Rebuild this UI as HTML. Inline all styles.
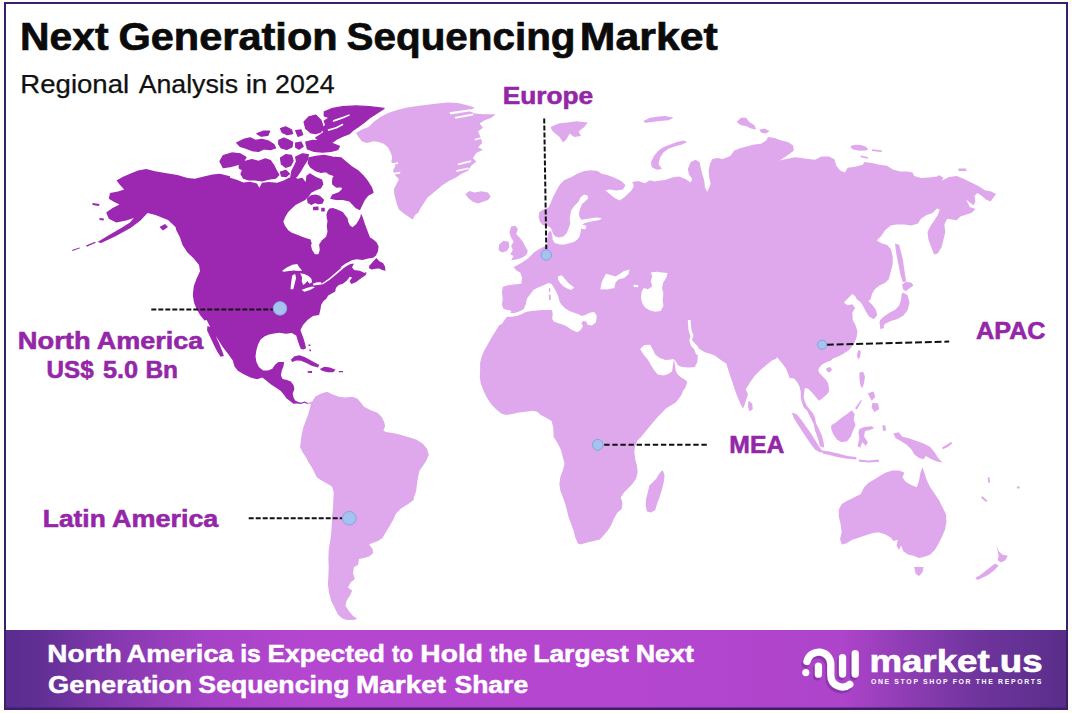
<!DOCTYPE html>
<html lang="en">
<head>
<meta charset="utf-8">
<title>Next Generation Sequencing Market - Regional Analysis in 2024</title>
<style>
  html, body { margin: 0; padding: 0; background: #fffefd; }
  body { width: 1072px; height: 713px; overflow: hidden; position: relative;
         font-family: "Liberation Sans", sans-serif; }
  svg { position: absolute; left: 0; top: 0; display: block; }
  text { font-family: "Liberation Sans", sans-serif; }
  .lbl { font-weight: bold; fill: #9426A8; }
  .dash { stroke: #111; stroke-width: 2; fill: none; }
  .dot { fill: #a5c3ee; stroke: #7fa6dd; stroke-width: 1; }
</style>
</head>
<body>
<svg width="1072" height="713" viewBox="0 0 1072 713">
  <defs>
    <linearGradient id="band" gradientUnits="userSpaceOnUse" x1="6" y1="0" x2="1066" y2="0">
      <stop offset="0" stop-color="#5b2d8f"/>
      <stop offset="0.03" stop-color="#602f94"/>
      <stop offset="0.09" stop-color="#8037ab"/>
      <stop offset="0.19" stop-color="#a642c6"/>
      <stop offset="0.28" stop-color="#b446cf"/>
      <stop offset="0.60" stop-color="#b446cf"/>
      <stop offset="0.79" stop-color="#ad44ca"/>
      <stop offset="0.855" stop-color="#8c3cb2"/>
      <stop offset="0.92" stop-color="#6e349c"/>
      <stop offset="0.985" stop-color="#5e2f8e"/>
      <stop offset="1" stop-color="#5a2d8a"/>
    </linearGradient>
  </defs>

  <!-- page frame -->
  <rect x="0" y="0" width="1072" height="713" fill="#fffefd"/>
  <rect x="5" y="3" width="1062" height="706" fill="#ffffff" stroke="#3b1f6b" stroke-width="2"/>

  <!-- world map -->
  <g id="map">
    <path fill="#DFA8EC" d="M356,132.9 361.9,129.5 368.6,127 373.6,121.9 380.4,116.9 388.8,112.7 397.2,110.1 407.3,107.6 417.4,105.9 427.5,104.8 437.6,103.4 447.7,102.6 457.8,103.1 466.2,105.1 474.6,107.6 469.5,111 474.6,113.5 483,114.3 495.6,114.3 491.4,117.7 484.7,120.2 479.6,123.6 483,127.8 478,131.2 480.5,137.1 482.2,142.9 478,147.2 483,149.7 476.3,153 472.9,158.1 476.3,161.5 471.2,165.7 467.9,170.7 461.1,174.1 456.1,177.4 449.4,180.8 442.6,185 437.6,189.2 432.5,193.4 427.5,197.6 424.1,202.7 420.8,207.7 418.2,212.8 415.5,214.5 412.5,219.5 409,217 404.5,214 398.9,209.4 396.4,202.7 394.7,195.9 393.8,189.2 396.4,184.2 398.9,179.1 395.5,175.8 393,170.7 395.5,165.7 391.3,162.3 392.2,157.2 390.5,152.2 387.9,147.2 383.7,143.8 378.7,142.1 373.6,141.3 366.9,142.9 361.9,141.3 358.5,137.1ZM465.3,194.3 469.5,190.9 474.6,192.6 481.3,191.2 488,192.6 490.6,196.8 488,200.1 483,201.8 478,203.5 472.9,201.8 468.7,198.5ZM310.2,406.8 311,403.5 315.2,396.7 321.1,393.4 327,391.7 332.1,394.2 338.8,396.7 345.5,397.6 352.2,396.7 357.3,398.4 360.7,402.6 364,406.8 370.8,410.2 377.5,412.7 381.7,416.9 384.2,422 385.1,426.2 383.4,430.4 385.9,432.1 392.6,432.9 399.4,434.6 407.8,437.1 416.2,439.6 422.9,443.8 427.1,448.9 428.8,454.8 426.3,460.7 422.9,465.7 419.5,470.8 417.9,477.5 417,484.2 416.2,490.9 413.7,497.7 413.7,500 407.8,504.2 401,508.4 396,513.5 393.5,519.3 390.1,525.2 385.9,532 382.5,537.9 377.5,541.2 372.4,542.9 369.1,544.6 372.4,548.8 373.3,553 369.1,556.4 364,558 359,558.9 358.1,564.8 353.9,567.3 353.1,573.2 354.8,579.1 350.6,582.4 348,587.5 352.2,590.8 349.7,595.9 346.4,600.9 345.5,606 348.9,611 353.1,616.1 357.3,618.6 353.9,620 347.2,620 342.2,618.6 337.9,614.4 334.6,607.7 331.2,600.9 329,592.5 327.9,584.1 328.4,575.7 328.7,567.3 328.4,558.9 328.7,550.5 330,542.1 331.2,533.6 331.7,525.2 332.1,516.8 332.9,508.4 333.4,500 333.4,499.4 333.7,492.6 332.1,486.7 327,483.4 322,480.8 316.9,477.5 314.4,472.4 311.9,467.4 308.5,462.3 306,457.3 302.6,452.2 300.1,447.2 300.9,440.5 301.8,433.7 303.5,427 306,420.3 308.5,413.6ZM308,403.1 311,401.8 314.4,402.8 317.8,404.1 320.5,406.1 319.8,407.5 316.8,405.5 313.7,404.1 311,403.4 308.3,404.5ZM511.1,310.7 503.6,309 501.9,304.8 502.7,298.9 501.9,292.2 502.7,287.1 506.9,285.4 513.6,284.6 521.2,283.7 522.1,277.9 520.4,272.8 516.2,270.3 513.6,266.9 520.4,263.6 525.4,260.2 528.8,257.7 533.8,252.6 538.9,249.3 543.9,246.7 543.9,246.7 547.3,244.4 547.5,239.8 547.8,234.7 549,231.2 551.3,231.6 552.2,235.2 552.7,239.8 554.7,243.1 559.9,244.4 564.5,244.4 569.1,243.3 573.7,242.1 577.2,239.8 579.5,236.4 580.6,232.4 581.2,228.3 582.9,228.9 585.2,229.5 586.4,226 584.1,224.9 582.4,224.9 584.1,223.2 588.7,222 593.9,220.9 599,220.3 601.9,218.6 597.9,217.4 592.1,218 586.4,219.1 581.2,219.7 579.5,216.8 578.9,213.4 580.1,208.8 581.8,204.2 585.2,201.3 588.1,198.4 587.5,195.5 584.1,194.4 580.6,197.3 578.3,201.9 574.9,205.3 571.4,209.9 570.3,214.5 569.7,219.1 570.3,223.7 568.6,228.3 566.8,232.9 563.4,236.4 558.8,237.5 555.3,236.4 553,233.5 551.9,230.6 550.7,227.8 547.3,226 542.7,224.9 539.8,221.4 538.6,216.8 539.2,212.2 542.7,209.9 548.4,207.6 550.7,203 553,197.3 556.5,190.4 559.9,184.6 564.5,180 571.7,176.9 577.6,173.6 584.3,171 591,170.2 597.8,171 601.1,173.6 607.9,175.2 614.6,177.8 621.3,181.1 625.5,185.3 623,189.5 616.3,190.4 609.5,189.5 605.3,190.4 609.5,193.7 614.6,197.9 619.6,200.5 624.7,197.1 628,193.7 631.4,190.4 633.9,186.2 632.3,182 638.1,181 644.9,183.3 649.9,180.3 655,181.6 658.5,180.8 665.2,179.9 672,177.4 678.7,176.5 685.4,179.1 690.5,182.4 692.2,179.1 688.8,174 687.9,169 690.5,162.2 695.5,159.7 699.7,162.2 700.6,167.3 702.2,174 704.3,180.8 704.9,187.5 707.3,191.7 710.7,184.1 709.3,177.4 708.6,170.7 710,163.9 712.3,158.9 717.4,158 722.4,158.9 727.5,157.2 730.8,155.5 734.2,150.5 740.9,147.9 747.7,146.3 754.4,144.6 761.1,143.7 766.2,140.4 767.9,137 774.6,137.9 781.3,140.4 788,142.1 793.1,145.4 793.9,150.5 789.7,153.8 784.7,157.2 779.6,160.6 786.4,158.9 794.8,157.2 801.5,158 808.2,158.9 815,159.7 821.3,156.4 828.8,156.4 834.4,159.2 836.3,165.8 840.1,170.5 844.8,172.4 847.6,167.7 855.1,166.7 862.6,164.8 864.5,162 872,163 879.5,164.8 887.1,165.8 892.7,169.5 900.2,171.4 907.7,171.4 912.4,172.4 914.3,176.1 920.9,178 928.4,177.4 935.9,176.7 939.7,175.2 943.5,178 941.6,180.8 949.1,177.1 956.6,176.1 964.1,178.9 971.7,182.7 979.2,186.5 984.8,190.2 990.5,191.2 996.1,194 993.3,197.7 990.5,201.5 985.8,199.6 982,195.9 977.3,193 974.5,195.9 975.4,201.5 973.5,205.3 969.8,202.4 966,199.6 969.8,207.1 975.4,209 971.7,212.8 966,214.7 960.4,216.5 956.6,220.3 947.2,218.8 944.4,224.4 945.3,232 943.5,239.5 941.6,247 937.8,253.6 934.1,254.5 931.2,247 928.4,239.5 927.5,232 930.3,226.3 934.1,220.7 937.8,215 939.7,209.4 936.9,208.5 932.2,213.2 926.5,215 920.9,218.8 918.1,223.5 911.5,225.4 904,224.4 896.5,224.4 890.8,225.4 885.2,230.1 881.4,235.7 876.7,240.4 881.4,243.2 887.1,245.1 890.8,248.9 892.7,256.4 892.7,263.9 890.8,271.4 888.9,278.9 885.2,282.7 879.5,285.5 874.8,289.3 872,294 870.5,299.2 868.3,301.1 872,304.5 875.8,309.4 877.3,315 873.9,319.2 869,316.5 865.6,310.9 862.6,305.3 860.4,301.9 857,299.6 855.1,295.9 852.3,294 848.5,297.7 843.8,302.4 847.6,305.3 852.3,304.3 855.1,308.1 852.3,312.8 852.8,320 855.6,325.6 857.5,331.3 856.5,337.9 853.7,344.4 849,350.1 843.4,353.8 837.7,356.7 833,358.5 830.6,360.7 826.1,362.3 822.1,364.6 819.3,367.4 818.2,370.7 819.9,373.6 822.7,376.4 825.5,379.2 827.8,382.5 828.9,387 828.9,391.5 827.2,394.3 823.8,397.1 819.3,400.7 817.7,399.3 814.9,396 811.5,392.1 808.1,388.7 804.8,388.1 804.2,392.6 803.6,397.1 804.8,401.6 807,406.1 809.8,409.4 812.6,412.8 814.9,417.3 816,422.9 818.9,429 821.8,435.6 823.6,442.2 824.2,447.8 819.9,446.3 818,438.4 815.2,430.9 813.7,424 811.5,419.5 809.3,415 807,410.6 803.6,407.2 802,402.7 800.8,398.2 800.8,392.6 799.7,387 797.5,382.5 794.1,378.6 789.6,378 788.5,374.7 785.7,367.9 781.2,362.3 776.7,356.7 776.7,358.5 772,360.4 766.3,365.1 760.7,369.8 755,375.5 750.3,382 745.6,389.5 748,393.9 745,403.4 743,408.7 740,402.7 736.3,393.9 732.9,383.8 729.5,373.7 726.2,363.6 721.1,360.3 714.4,355.2 704.3,351.9 698.4,348.2 697.3,362 694.8,367 688.9,367.4 682.1,367 677.9,365.3 675.4,361.1 673.3,359 671.2,359.4 665.3,359.9 659.4,357.8 655.2,354.4 652.7,349.3 650.2,344.7 644.3,345.1 640.1,348.9 643.5,354.4 647.7,359.4 651,365.3 654.4,370.4 657.8,374.6 663.6,375.4 668.7,373.7 672.1,371.2 672.9,365.3 673.9,359.6 675,365.3 675.8,370.4 677.1,373.7 680.5,377.1 684.7,379.6 687.2,382.1 685.5,387.2 683.8,390 682.8,390.9 681.8,394.6 676,402.3 665.9,408.4 657.2,417.5 648.8,427.6 640.4,437.7 637.7,440.1 635.3,445.5 634.3,451.9 635.1,458.6 636.8,465.3 637.7,472.1 636,478.8 632.6,483.8 628.4,488 624.2,492.2 620.8,497.3 622.5,503.2 621.7,509.1 617.5,512.4 614.1,518.3 611.6,524.2 608.2,530.1 604,535.1 599.8,539.4 593.9,541 587.2,542.4 580.5,544.4 577.9,543.6 575.4,537.7 573.7,530.9 571.2,524.2 568.7,517.5 567,510.8 565.3,504 562.8,497.3 560.3,490.6 559.4,483.8 560.3,477.1 562.8,470.4 564.5,463.6 562.8,456.9 561.1,450.2 557.8,443.5 553.6,436.7 553.3,427.7 551.6,420.9 545.7,417.6 540.7,415.1 537.3,411.7 532.2,410.8 525.5,411.7 518.8,412.5 512.1,413.9 506.2,415.1 501.1,413.4 496.1,409.2 491,404.1 486.8,397.4 483.5,390.7 480.9,383.9 479.8,377.2 480.1,370.5 480.1,362.9 481.8,356.2 484.3,350.3 487.7,344.4 491,338.5 495.2,331.8 499.4,325 501.9,324.1 505.2,319.1 508.6,314.9 511.1,312ZM511.1,226.5 515.3,225.7 517.9,229.1 516.2,234.1 519.5,237.5 522.9,241.7 525.4,246.7 527.9,250.9 526.3,255.1 522.1,257.7 516.2,259.4 511.1,260.2 513.6,256 510.3,254.3 512.8,250.1 511.1,245.9 513.6,241.7 511.1,237.5 509.4,232.4ZM499.3,244.2 503.6,240.8 508.6,241.7 509.4,246.7 506.9,250.9 501.9,252.6 498.5,250.1ZM651.8,167.3 650.9,162.2 654.3,155.5 658.5,150.5 663.6,147.1 670.3,144.6 677,142.1 683.7,140.4 687.1,142.1 682.1,144.6 675.3,146.3 668.6,148.8 663.6,152.2 660.2,157.2 658.5,163.9 661.9,169 656.8,169.8ZM643.4,121 650.1,117.7 656.8,116.8 665.2,116 673.6,117.7 668.6,120.2 660.2,121 651.8,121.9 645,122.7ZM736.7,121.9 740.9,117.7 746,117.7 749.4,121.9 754.4,125.2 756.1,129.4 751,128.6 746,126.1 740.9,125.2ZM759.4,129.4 764.5,128.6 769.5,131.1 766.2,133.6 761.1,132.8ZM850.4,146.1 855.1,144.7 860.8,145.1 866.4,147 868.3,149.8 863.6,150.8 857.9,150.4 852.3,149.2ZM872,149.2 882.4,150.4 881.4,151.9 872,150.9ZM860.8,155.5 868.3,157.3 867.3,158.8 860.4,157ZM958.5,168.6 966,168.6 966.4,171.1 958.5,171.1ZM895,243.6 899.1,244.7 901.2,252.6 903,260.2 904,267.7 905.1,275.2 906.2,281.2 902.9,282.3 900.6,275.2 899.1,267.7 897.6,260.2 896.1,252.6ZM902.1,284.6 905.9,281.8 911.5,282.7 913.4,285.5 909.6,288.3 905.9,291.2 903,289.3ZM902.5,292.5 907.4,294.9 909.6,302.4 907.4,310.5 903.2,315.8 896.8,319.2 890.8,321.1 885.2,323.7 882.4,326.7 879.5,324.1 879.9,320.3 884.2,316.2 889.9,312.4 895.5,309.6 899.1,305.6 901,300 901.5,294.9ZM879.9,322.6 884.2,323.1 883.7,328.2 880.3,328.9ZM748.5,400.8 752.2,403.6 752.8,409.3 749.4,411.2 747.9,406.5ZM826.5,367.9 830.2,367 832.1,369.8 829.3,372.6 826.5,371.1ZM858.4,350.1 860.7,351 860.3,356.7 858,359.5 856.9,354.8ZM859.4,372.6 863.1,371.7 865,376.4 864.1,383 862.2,388.6 860.3,384.8 859.4,378.3ZM867.8,393.3 873.5,391.4 875.3,397.1 871.6,400.8ZM872.5,402.7 878.2,403.6 879.1,409.3 874.4,412.1 871.6,407.4ZM860.3,400.8 862.2,399.9 856.9,409.5 855,408.3ZM791.9,412.5 796.4,414 801.1,419.6 805.8,426.2 810.5,432.8 815.2,440.3 819.9,447.8 822.7,451.6 820.5,452.7 815.2,449.7 811.4,445 806.7,438 802,430.9 797.3,423.8 793.6,417.7ZM831.2,425.3 835.9,422.4 841.5,417.7 847.1,414 851.8,410.2 854.7,414 853.7,419.6 855.6,425.3 852.8,430.9 850.9,436.5 847.1,441.2 841.5,442.2 836.8,439.4 833,433.7 831.2,429ZM859.4,429 864.1,427.1 871.6,426.2 874.4,428.1 869.7,430 865,430.9 864.1,436.5 867.8,442.2 865.9,445.9 862.2,442.2 860.3,447.8 857.5,445.9 859.4,438.4 858.4,432.8ZM882.5,425.3 885.5,425.6 885.9,430.9 882.9,430.5ZM821.5,450.3 829.3,451.4 838.3,453.6 847.3,455.9 856.3,457 856.3,459.5 847.3,458.8 838.3,457.2 829.3,455 822.6,453.4ZM859,459.5 868.6,460.4 878.7,459.5 879.1,461.7 868.8,462.6 859,461.7ZM893.3,433.5 898.9,432.3 902.3,436.8 907.9,437.9 914.6,440.2 923.6,443.6 930.3,446.9 934.8,452.5 938.1,458.1 942.6,462.6 937,461.5 931.4,459.3 925.8,455.9 923.6,459.3 919.1,458.1 914.6,454.8 911.2,449.2 906.7,444.7 901.1,441.3 895.5,437.9ZM942,447.4 946.4,445.1 950.9,442 952.3,443.3 947.8,446.9 942.9,449.2ZM922.4,467.1 924.7,473.8 926.9,480.6 930.3,487.3 934.8,494 939.3,500.8 942.6,507.5 946,514.2 946.4,522.1 944.9,529.9 941.5,537.8 938.1,544.5 934.8,550.1 930.3,554.6 924.7,556.8 919.1,558 913.5,555.7 907.9,554.6 903.4,551.2 901.1,545.6 898.9,550.1 896.6,545.6 897.8,540 893.3,541.1 891,537.8 885.4,534.4 878.7,532.2 872,533.3 865.2,535.5 858.5,537.8 851.8,540 846.2,543.4 841.7,544.5 840.1,538.9 841.7,532.2 840.6,524.3 838.8,516.5 838.8,509.7 841.7,504.1 847.3,500.8 854,497.4 860.8,494 864.1,487.3 868.6,482.8 874.2,479.4 879.8,476.1 885.4,472.7 892.2,470.5 898.9,470.5 904.5,472.7 902.3,477.2 905.6,481.7 911.2,485.1 916.8,487.3 919.1,480.6 920.2,473.8ZM914.1,566.9 923.6,566.9 922.4,572.5 919.1,575.9 915.7,573.7ZM996.5,545.6 998.7,551.2 1002.1,554.6 1007.7,555.7 1005.4,560.2 1001,562.4 997.6,560.2 998.7,555.7ZM995.3,563.6 998.7,565.8 994.2,570.3 988.6,574.8 981.9,578.1 977.4,579.9 975.2,578.1 980.8,574.8 986.4,570.3 992,565.8ZM980.8,497.4 982.6,496.3 987.5,500.8 985.9,502.1ZM987.7,477.2 989.5,477.2 990,482.8 988.2,482.8ZM1016.9,486.4 1019.6,486.4 1019.6,488.6 1016.9,488.6ZM662.9,470.4 664.6,475.4 663.7,482.2 662.1,488.9 659.5,497.3 657,504 655.3,509.9 651.1,512.4 646.9,511.6 645.7,505.7 646.1,499 647.8,492.2 649.4,485.5 652.8,482.2 656.2,478.8 658.7,474.6 661.2,471.2ZM550.7,126.9 558.5,123.6 567.5,122.4 576.5,121.3 587.7,122.4 584.3,126.9 578.7,131.4 580.9,135.9 574.2,137 569.7,133.6 566.4,139.3 563,142.6 559.6,137 555.1,133.6 551.8,130.3Z"/>
    <path fill="#9C27B0" d="M97.5,242 110,234.5 121.2,228 130,222.5 133.8,218 126.2,220.5 116.2,222.5 108.8,218.8 106.2,212.5 112.5,208 119.5,204.5 113.8,201.8 108.8,198.8 110,193 118,191.5 124.2,189.5 120,185 116.5,180.5 122.5,177 131.2,173.2 138,170.5 146.2,169 155,171.2 165,173 177.5,175 187.5,178 195,178.8 203.8,176.5 212.5,174.5 220,173.8 230,176.2 230,177.7 236.7,179.7 243.5,182.4 250.2,181.8 256.9,183.4 259.4,187.8 262,182.8 268.7,181.9 277.1,182.8 283.8,180.4 288.9,177.7 293.9,176 297.3,178.7 302.3,177.7 305.7,182.1 306.4,175.8 310,173.3 316.1,177 322.1,179.4 323.4,184.3 320.9,188.5 316.1,190.3 311.2,192.7 308.8,196.4 305.2,200 300.3,202.4 295.5,204.9 291.8,208.5 288.2,212.1 285.2,217 283.3,221.8 285.2,226.1 288.2,230.3 291.8,232.8 296.7,234.6 301.5,236.4 306.4,238.2 310.6,239.4 311.8,243.7 310.9,245.1 312.1,250 314.9,254.3 318.4,254.3 319.8,250 319.1,244.4 321.9,240.2 326.1,236.7 327.5,231.8 326.8,226.2 327.5,220.6 327,219.4 326.4,214.6 327.6,210.9 329.4,208.5 333.1,207.9 337.9,209.7 342.8,212.1 345.2,215.2 347.6,218.2 348.2,221.8 350,225.5 352.5,227.3 356.1,224.3 358.5,220.6 360.3,217 361,213.4 362.8,217.6 364.6,223.1 366.4,227.9 368.2,232.8 370,237.6 372.3,238.8 376.5,242.3 378.6,246.5 377.9,251.5 375.8,255.7 373,257.8 368.1,258.5 362.5,259.9 356.9,259.2 352.7,259.9 345.7,263.4 340.1,267.6 344.3,267.2 349.9,264.3 354.1,263.4 352,267.2 354.1,270 359.7,270.8 364.2,272.8 366.7,272.2 365.6,275.3 361.4,278.1 355.8,282.3 351.3,284 349.6,281.2 352,277.4 349.9,276.7 346.4,280.9 342.9,283.7 338.7,285.1 335.9,287.9 335.2,291.4 331.7,293.5 328.2,295.6 326.1,299.1 323.3,301.2 321.2,304.7 320.5,308.9 319.1,315 313,316 307.5,320 303,325 300.5,330 300.9,331.4 303.3,337.7 305,343.6 306,348.3 303.6,349.6 300.9,348.9 299.3,345.2 297.6,340.2 296.2,335.5 291.7,333.1 285.8,333.8 279.1,332.8 274,333.5 269,334.5 264.8,336.2 260.6,339.5 258,344.6 256.4,350.3 255.5,356.2 256.4,362.1 258.9,367.1 263.1,370.5 268.1,370.6 272.3,368.8 275,364.8 278.4,362.1 284.1,362.1 283.4,366.4 281.8,370.5 280.9,375.5 282.6,378.9 286.8,379.9 290.8,381.6 293.5,384.9 294.4,389 292.7,393.4 293.5,397.4 295.2,400.4 297.6,401.8 300.9,402.8 304.6,401.4 308,403.1 307.7,404.1 304.3,402.8 300.9,404.1 296.7,403.4 293.4,403.8 290,401.1 286.6,398.4 284.1,395 280.8,391 275.7,387.6 270.7,384.3 265.6,380.1 262.2,377.5 257.2,379.2 250.5,377.5 243.7,374.2 237.9,370.8 234.5,366.4 232.8,360.4 227.8,353.6 222.7,346.9 218.5,340.2 214.3,333.5 210.1,326.7 206.7,320 204.5,320.5 200,315 196.5,308.8 194,302.5 192.8,295 193.8,286.2 196.5,278.8 200,271.2 199,265 194,258.8 187.5,252.5 182.5,245 180,237.5 176.2,230 175.5,227 168,220 155.5,215 147.5,213 140.5,220.5 130.5,228 115.5,236.2 101.2,243ZM207.4,326.1 212.1,327.4 214.8,333.5 217.2,339.3 219.9,345.2 222.2,351.1 223.9,356 220.5,356.7 217.5,352 214.5,346.2 211.8,340.5 209.1,334.8 207.1,330.4ZM369.3,265.8 373.2,261.5 376.3,257.9 379.4,261.3 383,262.9 385,266.6 385.5,270.8 382.2,270 379.1,268.6 375.4,268.8 371.8,269.4 369,268.3ZM290.8,359.7 294.5,356.3 299.3,355.3 304.6,357 309.7,359.7 314.7,362.4 319.4,365.1 317.8,367.4 311.7,365.8 306.3,363.1 300.9,360.7 296.2,360.4 292.2,362.1ZM319.8,369.1 324.5,366.8 329.9,367.4 335.6,369.8 333.2,372.2 327.9,372.2 322.5,371.1ZM307.7,371.1 312,371.1 312,373 307.7,372.8ZM338.8,371 343,371 343,372.3 338.8,372.3ZM308.5,344.6 310.4,344.6 310.4,346.1 308.5,346.1ZM309.4,349.6 311,349.6 311,351.3 309.4,351.3ZM86,245.5 95,241.8 95.8,242.8 86.8,246.8ZM72,250 79.5,247.5 80,248.2 72.5,251ZM92.5,203 99.5,204 99,206 92.5,205ZM99.5,218 104,218.5 103.5,220.5 99.5,220ZM159.5,227 165,224 168,227 163,230.5Z"/>
    <path fill="#9C27B0" stroke="#9C27B0" stroke-width="1.3" stroke-linejoin="round" d="M324.3,111.8 332.7,108.4 342.8,106.7 356.2,105.9 369.7,106.7 384,108.4 376.4,113.5 369.7,117.7 364.6,121.9 357.9,126.9 352.9,130.3 349.5,133.6 342.8,136.2 336,139.5 332.7,142.1 325.9,142.1 319.2,140.4 315.8,137.9 320.9,134.5 324.3,132 320.9,128.6 325.9,125.2 324.3,121 329.3,117.7 324.3,116ZM304.1,121.9 309.1,116.8 315.8,115.1 320.9,120.2 322.6,125.2 320.9,132 315.8,133.6 310.8,132.8 305.8,128.6ZM280.5,128.6 285.6,126.9 291.5,129.9 292.6,133.6 287.2,134.7 282.2,132.3ZM295.7,130.6 301,129.9 302.7,134.7 298,136.3ZM236.8,142.9 243.5,139.5 250.2,137.9 255.3,140.4 262,139.5 268.7,141.2 273.8,144.6 275.5,147.9 270.4,149.6 263.7,148.8 258.6,151.3 251.9,150.5 245.2,147.9 240.1,146.3ZM257,133.6 263.7,131.1 269.6,131.1 267.9,135.3 261.2,136.2ZM278.8,140.4 283.9,138 288.6,140 292.6,142.4 292,146.8 286.6,149.5 281.2,147.8 278.8,144.1ZM295.7,143.1 301,142.1 303.1,146.4 299,149.1 295.7,147.1ZM305.8,142.1 312.5,140.4 322.6,141.2 332.7,143.7 339.4,146.3 337.7,149.6 331,151.3 322.6,152.2 314.2,151.3 307.4,148.8ZM223.3,155.5 231.7,153 240.1,153.8 246,157.2 243.5,161.4 236.8,164.8 230,166.5 223.3,167.6 220,161.4ZM239.3,164.8 245.2,161.4 251.9,159.7 258.6,161.4 265.4,158.9 270.4,160.6 273.8,165.6 276.3,170.7 278.8,174.9 275.5,178.2 268.7,179.1 262,180.8 255.3,179.9 248.6,179.9 243.5,178.2 241,174 242.7,169.8 239.3,168.1ZM280.5,158 285.6,154.7 291.5,155.5 293.1,160.6 290.6,165.6 285.6,167.3 281.4,163.9ZM295.7,157.2 302.4,153.8 308.3,154.7 307.4,159.7 304.1,164.8 300.7,170.7 297.3,175.7 294,178.7 290.9,176.7 292,170.7 294.7,165.6 296.5,161.4ZM280.5,172 285.6,170.3 289.3,173.7 285.9,176.7 281.5,176ZM309.1,158 315.8,156.4 324.3,155.5 332.7,157.2 341.1,158 346.1,162.2 351.2,166.5 357.9,170.7 363,175.7 367.2,180.8 371.4,187.5 373,192.5 368,195.1 364.6,199.3 362.1,204.3 359.6,209.4 356.2,207.7 352.9,204.3 349.5,200.9 342.8,199.3 336,199.3 331,198.4 332.7,195.1 339.4,192.5 342.8,189.2 341.1,185 336,182.4 332.7,179.1 334.4,175.7 329.3,174 325.9,171.5 320.9,172.3 315.8,170.7 310.8,167.3 308.3,163.1ZM332.7,180.4 338.1,179.1 342.8,182.1 341.8,186.5 336.4,187.1 332.7,184.1ZM307.6,198.8 311.2,195.8 315.5,195.2 319.7,196.4 323.4,200 322.1,203.1 318.5,203.7 314.9,202.4 311.2,204.3 308.2,202.4ZM313.7,207.3 317.9,207.1 317.9,209.7 313.7,209.7ZM321.9,208.3 324.1,208.3 324.1,210.9 321.9,210.9Z"/>
    <path fill="#ffffff" d="M281.9,271.1 286.8,267.6 292.4,264.8 297.3,264.1 299.4,267.6 302.2,270.4 298.7,271.1 293.8,270.4 288.9,271.1 284,271.8ZM292.4,275.3 295.2,273.9 296.1,278.1 294.7,283.7 293.3,289.3 290.5,289.3 291,283.7 291.7,278.8ZM300.1,273.2 304.3,273.9 308.6,276 311.4,278.8 312.1,282.3 309.5,283.7 307.3,280.9 305,283.7 303.1,285.1 301.7,280.9 302.2,277.4ZM301.5,290 306.5,287.9 312.1,286.5 314.9,287.2 310.1,290 304.5,291.8ZM312.8,283.7 317,282.3 321.2,282.3 321.9,284.4 317.7,285.1 313.5,285.5ZM321.9,283.4 328.9,278.4 335.9,272.5 342.9,266.6 348.5,262.4 352.7,260.1 353.6,261.3 349.3,263.8 343.7,268 336.7,273.9 329.7,279.8 322.7,284.5ZM332.7,120.2 342.8,116.8 349.5,114.3 349.8,115.5 343.1,118.5 333.3,121.9ZM327.6,129.4 336,126.9 342.8,123.6 343.4,124.9 336.7,128.6 328.3,131ZM449.3,112.3 470.4,109.3 475,110.6 450.6,114.4ZM454.6,116.9 472.9,113.5 473.7,115.2 455.6,118.8ZM457.7,163.6 470.8,160.2 471.4,161.9 458.4,165.3ZM456.1,170.3 468.3,167.4 468.7,169.1 456.7,172ZM390.5,163.6 398,162.3 398.2,164 390.9,165.3ZM391.7,173.3 400.1,171.8 400.3,173.5 392.1,174.9ZM474.6,138.8 482.1,137.1 482.6,138.6 475,140.5ZM506.7,313.4 514.6,313 519.1,311.5 523.6,309.3 525.8,304.3 526.9,298.6 530.3,294.2 533.6,289.7 538.1,287.4 543.7,285.2 548.2,282.9 551.6,284.1 553.8,287.4 556.1,291.4 558.3,296.4 559.4,300.9 561.1,304.3 565,308.2 569.5,311 574,312.7 578.5,314.3 581.9,316 585.2,314.9 589.7,312.7 594.2,311.9 596.7,315.5 596,322.2 592,325.6 587.5,324.7 586.4,321.6 583,321.1 581.3,323.3 583,326.1 580.7,330 577.4,332.3 571.8,330 567.3,326.7 562.8,324.4 558.3,323.3 553.8,321.6 552.1,318.8 552.7,314.3 552.1,310.1 548.2,309.9 542.6,309.9 537,310.4 531.4,311 525.8,312.1 521.3,314.3 516.8,316 511.2,316.8 506.7,316.8ZM557.8,276.4 561.7,275.3 565,279 568.4,282.9 571.8,285.7 574.2,287.4 571.2,290.1 567.1,288.6 563.4,286.3 560.3,283.2 558.1,279.6ZM600.3,289.3 601.7,282.2 605.9,273.8 611.5,275.2 615.7,276.6 619.9,273.8 624.1,271 629.7,269.6 628.3,274.5 624.1,278 618.5,279.4 615.7,282.2 614.3,287.9 607.3,289.5ZM650.8,272.4 656.4,271.7 662,272.4 667.6,273.1 666.2,278 663.4,282.2 662,287.9 663.4,293.5 662.7,300.5 663.4,306.1 660.6,311 655,311.7 649.4,310.3 645.1,307.5 642.3,303.3 640.9,297.7 641.6,292.1 643.7,287.9 647.9,289.3 652.2,286.5 650.8,280.8 652.2,276.6ZM633.6,284.8 638.1,285 638.1,287.3 633.6,287ZM687.8,319.9 690.5,319.9 691.5,330 693.5,336.1 691.9,339.8 694.5,343.1 697.9,346.5 699.9,353.6 696.2,354.9 694.2,349.2 690.8,345.5 689.2,340.1 690.5,336.7 688.5,330Z"/>
    <path fill="#DFA8EC" d="M548.9,288 550.2,288 550.2,291.9 548.9,291.9ZM548.9,294.7 550.7,294.7 550.7,300 548.9,300Z"/>
    <path fill="#9C27B0" d=""/>
  </g>

  <!-- headings -->
  <text y="49.9" font-size="38.5" font-weight="bold" fill="#0b0b0b" stroke="#0b0b0b" stroke-width="0.7"><tspan x="20.02" textLength="88.53" lengthAdjust="spacingAndGlyphs">Next</tspan> <tspan x="118.45" textLength="219.18" lengthAdjust="spacingAndGlyphs">Generation</tspan> <tspan x="346.59" textLength="228.97" lengthAdjust="spacingAndGlyphs">Sequencing</tspan> <tspan x="579.89" textLength="137.88" lengthAdjust="spacingAndGlyphs">Market</tspan></text>
  <text y="93.3" font-size="25.5" fill="#111111" stroke="#111111" stroke-width="0.25"><tspan x="20.26" textLength="108.96" lengthAdjust="spacingAndGlyphs">Regional</tspan> <tspan x="138.67" textLength="99.47" lengthAdjust="spacingAndGlyphs">Analysis</tspan> <tspan x="245.65" textLength="21.85" lengthAdjust="spacingAndGlyphs">in</tspan> <tspan x="274.98" textLength="59.69" lengthAdjust="spacingAndGlyphs">2024</tspan></text>

  <!-- region labels -->
  <g class="lbl" font-size="23.5" stroke="#9426A8" stroke-width="0.55">
    <text y="103.9"><tspan x="502.72" textLength="90.51" lengthAdjust="spacingAndGlyphs">Europe</tspan></text>
    <text y="348.6"><tspan x="17.85" textLength="72.77" lengthAdjust="spacingAndGlyphs">North</tspan> <tspan x="96.8" textLength="106.55" lengthAdjust="spacingAndGlyphs">America</tspan></text>
    <text y="377.8"><tspan x="46.52" textLength="47.15" lengthAdjust="spacingAndGlyphs">US$</tspan> <tspan x="102.9" textLength="35.17" lengthAdjust="spacingAndGlyphs">5.0</tspan> <tspan x="145.44" textLength="32.6" lengthAdjust="spacingAndGlyphs">Bn</tspan></text>
    <text y="527.1"><tspan x="42.81" textLength="62.95" lengthAdjust="spacingAndGlyphs">Latin</tspan> <tspan x="112.0" textLength="106.35" lengthAdjust="spacingAndGlyphs">America</tspan></text>
    <text y="452.6"><tspan x="729.32" textLength="54.96" lengthAdjust="spacingAndGlyphs">MEA</tspan></text>
    <text y="338.9"><tspan x="975.95" textLength="69.67" lengthAdjust="spacingAndGlyphs">APAC</tspan></text>
  </g>

  <!-- leader lines -->
  <path class="dash" stroke-dasharray="5 2" d="M151.3,309.6 L274,309.6"/>
  <path class="dash" stroke-dasharray="5 2" d="M248.7,518.2 L342,518.2"/>
  <path class="dash" stroke-dasharray="5.4 2.7" d="M604.2,444.8 L707,444.8"/>
  <path class="dash" stroke-dasharray="7 2.8" d="M826.8,344.7 L949.2,341.6"/>
  <path class="dash" stroke-dasharray="5 2" d="M544.2,118.6 L546.3,249"/>

  <!-- markers -->
  <circle class="dot" cx="280" cy="308.4" r="6.8"/>
  <circle class="dot" cx="349.3" cy="518.2" r="6.8"/>
  <circle class="dot" cx="597.8" cy="444.8" r="5.4"/>
  <circle class="dot" cx="822.1" cy="344.7" r="4.6"/>
  <circle class="dot" cx="546.3" cy="255" r="5.2"/>

  <!-- footer band -->
  <rect x="6" y="630" width="1060" height="78" fill="url(#band)"/>
  <rect x="5" y="707.5" width="1062" height="2" fill="#3b1f6b"/>
  <g font-size="24.5" font-weight="bold" fill="#ffffff" stroke="#ffffff" stroke-width="0.5">
    <text y="661.7"><tspan x="47.39" textLength="74.29" lengthAdjust="spacingAndGlyphs">North</tspan> <tspan x="126.57" textLength="107.0" lengthAdjust="spacingAndGlyphs">America</tspan> <tspan x="240.22" textLength="20.64" lengthAdjust="spacingAndGlyphs">is</tspan> <tspan x="267.48" textLength="117.41" lengthAdjust="spacingAndGlyphs">Expected</tspan> <tspan x="391.98" textLength="21.04" lengthAdjust="spacingAndGlyphs">to</tspan> <tspan x="420.36" textLength="62.64" lengthAdjust="spacingAndGlyphs">Hold</tspan> <tspan x="489.54" textLength="37.66" lengthAdjust="spacingAndGlyphs">the</tspan> <tspan x="533.28" textLength="95.49" lengthAdjust="spacingAndGlyphs">Largest</tspan> <tspan x="635.65" textLength="58.22" lengthAdjust="spacingAndGlyphs">Next</tspan></text>
    <text y="692.7"><tspan x="48.13" textLength="143.7" lengthAdjust="spacingAndGlyphs">Generation</tspan> <tspan x="198.38" textLength="151.05" lengthAdjust="spacingAndGlyphs">Sequencing</tspan> <tspan x="355.98" textLength="90.11" lengthAdjust="spacingAndGlyphs">Market</tspan> <tspan x="454.49" textLength="73.67" lengthAdjust="spacingAndGlyphs">Share</tspan></text>
  </g>

  <!-- market.us logo -->
  <g id="logo-shadow" transform="translate(-1.6,2.6)" opacity="0.35" fill="none" stroke="#4a1d78" stroke-width="7.6" stroke-linecap="round" stroke-linejoin="round">
    <path d="M806.9,661.5 A12.1,12.1 0 0 1 830.8,664.6 L830.8,675.2 A11.7,11.7 0 0 0 849.8,684.4"/>
    <path d="M818.4,666.2 L818.4,674.2"/>
    <path d="M842.5,657.6 L842.5,674"/>
    <path d="M855.2,653.7 L855.2,674"/>
  </g>
  <g fill="none" stroke="#ffffff" stroke-width="7.3" stroke-linecap="round" stroke-linejoin="round">
    <path d="M806.9,661.5 A12.1,12.1 0 0 1 830.8,664.6 L830.8,675.2 A11.7,11.7 0 0 0 849.8,684.4"/>
    <path d="M818.4,666.2 L818.4,674.2"/>
    <path d="M842.5,657.6 L842.5,674"/>
    <path d="M855.2,653.7 L855.2,674"/>
  </g>
  <circle cx="805.8" cy="672.6" r="3.6" fill="#ffffff"/>
  <text x="869.4" y="672.3" font-size="30.5" font-weight="bold" fill="#ffffff" stroke="#ffffff" stroke-width="0.6" textLength="173.2" lengthAdjust="spacingAndGlyphs">market.us</text>
  <text x="870.9" y="683.9" font-size="6.9" font-weight="bold" fill="#ffffff" textLength="170.4" lengthAdjust="spacing">ONE STOP SHOP FOR THE REPORTS</text>
</svg>
</body>
</html>
